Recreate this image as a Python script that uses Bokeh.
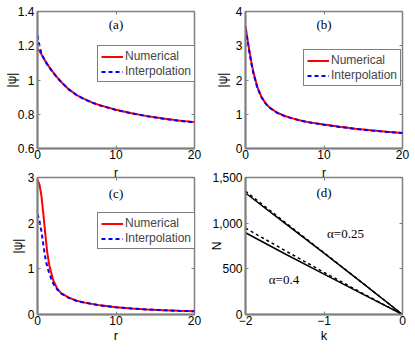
from bokeh.plotting import figure
from bokeh.layouts import gridplot
from bokeh.models import Range1d, FixedTicker, Label, Legend, LegendItem, LinearAxis
from bokeh.embed import file_html
from bokeh.resources import INLINE

# ---------------- data ----------------
r_ab = [0, 0.25, 0.5, 0.75, 1, 1.5, 2, 2.5, 3, 4, 5, 6, 7, 8, 10, 12, 14, 16, 18, 20]
a_num = [1.18, 1.17, 1.15, 1.13, 1.11, 1.075, 1.045, 1.015, 0.99, 0.945, 0.912, 0.888,
         0.868, 0.852, 0.826, 0.806, 0.789, 0.775, 0.763, 0.754]
a_int = [1.26, 1.2, 1.155, 1.13, 1.108, 1.073, 1.043, 1.014, 0.989, 0.944, 0.911, 0.887,
         0.867, 0.851, 0.825, 0.805, 0.788, 0.774, 0.762, 0.753]
b_num = [3.58, 3.2, 2.85, 2.52, 2.23, 1.8, 1.52, 1.34, 1.21, 1.05, 0.95, 0.88, 0.82,
         0.77, 0.70, 0.635, 0.58, 0.53, 0.49, 0.455]
b_int = [3.5, 3.15, 2.8, 2.48, 2.2, 1.78, 1.51, 1.33, 1.2, 1.045, 0.945, 0.875, 0.815,
         0.765, 0.695, 0.63, 0.575, 0.525, 0.485, 0.45]
r_c = [0, 0.25, 0.5, 0.75, 1, 1.25, 1.5, 2, 2.5, 3, 4, 5, 6, 8, 10, 12, 14, 16, 18, 20]
c_num = [2.95, 2.85, 2.6, 2.2, 1.75, 1.35, 1.08, 0.75, 0.57, 0.47, 0.37, 0.30, 0.26,
         0.20, 0.16, 0.13, 0.11, 0.095, 0.082, 0.072]
c_int = [2.2, 2.05, 1.82, 1.52, 1.24, 1.04, 0.9, 0.68, 0.55, 0.46, 0.365, 0.298, 0.258,
         0.199, 0.159, 0.129, 0.109, 0.094, 0.081, 0.071]
k_d = [-2, -1.5, -1, -0.5, 0]
d25_num = [1330, 1000, 672, 338, 0]
d25_int = [1350, 1012, 676, 339, 0]
d40_num = [895, 665, 442, 220, 0]
d40_int = [945, 702, 462, 228, 0]

xt_r = [0, 10, 20]
xl_r = ["0", "10", "20"]
yt_a = [0.6, 0.8, 1, 1.2, 1.4]
yl_a = ["0.6", "0.8", "1", "1.2", "1.4"]
yt_b = [0, 1, 2, 3, 4]
yl_b = ["0", "1", "2", "3", "4"]
yt_c = [0, 1, 2, 3]
yl_c = ["0", "1", "2", "3"]
xt_d = [-2, -1, 0]
xl_d = ["\u22122", "\u22121", "0"]
yt_d = [0, 500, 1000, 1500]
yl_d = ["0", "500", "1,000", "1,500"]

series_names = ["Numerical", "Interpolation"]
panel_tags = ["(a)", "(b)", "(c)", "(d)"]
alpha_tags = ["\u03b1=0.25", "\u03b1=0.4"]

GRAY = "#808080"
SANS = "Liberation Sans"
SERIF = "Liberation Serif"


def mirror_axis(p, ticks, side, label=None):
    # unlabeled axis carrying inward ticks on the top / right frame edges
    ax = LinearAxis(ticker=FixedTicker(ticks=ticks),
                    major_label_overrides={t: "" for t in ticks},
                    major_label_text_font_size="0px", major_label_standoff=0,
                    axis_line_color=None, major_tick_line_color=GRAY,
                    minor_tick_line_color=None, major_tick_in=3, major_tick_out=0)
    if label is not None:
        ax.axis_label = label
        ax.axis_label_standoff = -2
        ax.axis_label_text_font = SANS
        ax.axis_label_text_font_size = "12px"
        ax.axis_label_text_font_style = "normal"
        ax.axis_label_text_color = "black"
    p.add_layout(ax, side)


def make_fig(w, h, xr, yr, bl, br, bt, bb, xt, xl, yt, yl, xlab, ylab, ylab_stand, top_label=None):
    p = figure(width=w, height=h, x_range=Range1d(*xr), y_range=Range1d(*yr),
               output_backend="svg", toolbar_location=None,
               min_border_left=bl, min_border_right=br,
               min_border_top=bt, min_border_bottom=bb)
    p.xgrid.visible = False
    p.ygrid.visible = False
    p.background_fill_color = "white"
    p.border_fill_color = "white"
    p.outline_line_color = GRAY
    p.outline_line_width = 1.5
    for ax, t, l in ((p.xaxis[0], xt, xl), (p.yaxis[0], yt, yl)):
        ax.ticker = FixedTicker(ticks=t)
        ax.major_label_overrides = dict(zip(t, l))
        ax.axis_line_color = GRAY
        ax.axis_line_width = 2
        ax.major_tick_line_color = GRAY
        ax.major_tick_in = 3
        ax.major_tick_out = 0
        ax.minor_tick_line_color = None
        ax.major_label_text_font = SANS
        ax.major_label_text_font_size = "12px"
        ax.major_label_text_color = "black"
        ax.major_label_standoff = 1
        ax.axis_label_text_font = SANS
        ax.axis_label_text_font_style = "normal"
        ax.axis_label_text_color = "black"
    p.yaxis[0].major_label_standoff = 3
    p.xaxis[0].axis_label = xlab
    p.xaxis[0].axis_label_text_font_size = "13px"
    p.xaxis[0].axis_label_standoff = 0
    p.yaxis[0].axis_label = ylab
    p.yaxis[0].axis_label_text_font_size = "12px"
    p.yaxis[0].axis_label_standoff = ylab_stand
    mirror_axis(p, yt, "right")
    # the top axis of a lower panel also carries the "r" title of the panel above
    mirror_axis(p, xt, "above", top_label)
    return p


def add_legend(p, rn, ri, loc):
    leg = Legend(items=[LegendItem(label=series_names[0], renderers=[rn]),
                        LegendItem(label=series_names[1], renderers=[ri])],
                 location=loc, border_line_color="black", border_line_width=1,
                 background_fill_color="white", background_fill_alpha=1,
                 label_text_font=SANS, label_text_font_size="12px",
                 glyph_width=22, glyph_height=13, label_height=13,
                 padding=3, spacing=1, label_standoff=2, margin=0)
    p.add_layout(leg)


def tag(p, x, y, text):
    p.add_layout(Label(x=x, y=y, text=text, text_align="center", text_baseline="middle",
                       text_font=SERIF, text_font_size="13px", text_color="black"))


W1, W2 = 203, 207
H1, H2 = 162, 186

pa = make_fig(W1, H1, (0, 20), (0.6, 1.4), 37, 9, 11, 14, xt_r, xl_r, yt_a, yl_a, None, "|\u03c8|", -4)
pb = make_fig(W2, H1, (0, 20), (0, 4), 42, 8, 11, 14, xt_r, xl_r, yt_b, yl_b, None, "|\u03c8|", 3)
pc = make_fig(W1, H2, (0, 20), (0, 3), 37, 9, 14, 34, xt_r, xl_r, yt_c, yl_c, "r", "|\u03c8|", 0, "r")
pd = make_fig(W2, H2, (-2, 0), (0, 1500), 42, 8, 14, 34, xt_d, xl_d, yt_d, yl_d, "k", "N", -15, "r")

# (a)
ra1 = pa.line(r_ab, a_num, line_color="red", line_width=2)
ra2 = pa.line(r_ab, a_int, line_color="blue", line_width=2, line_dash="4 3")
add_legend(pa, ra1, ra2, (60, 66))
tag(pa, 10, 1.324, panel_tags[0])

# (b)
rb1 = pb.line(r_ab, b_num, line_color="red", line_width=2)
rb2 = pb.line(r_ab, b_int, line_color="blue", line_width=2, line_dash="4 3")
add_legend(pb, rb1, rb2, (58, 62))
tag(pb, 10, 3.62, panel_tags[1])

# (c)
rc1 = pc.line(r_c, c_num, line_color="red", line_width=2)
rc2 = pc.line(r_c, c_int, line_color="blue", line_width=2, line_dash="4 3")
add_legend(pc, rc1, rc2, (60, 65))
tag(pc, 10, 2.65, panel_tags[2])

# (d)
pd.line(k_d, d25_num, line_color="black", line_width=1.5)
pd.line(k_d, d25_int, line_color="black", line_width=1.5, line_dash="3 3")
pd.line(k_d, d40_num, line_color="black", line_width=1.5)
pd.line(k_d, d40_int, line_color="black", line_width=1.5, line_dash="3 3")
tag(pd, -1.0, 1337, panel_tags[3])
tag(pd, -0.726, 886, alpha_tags[0])
tag(pd, -1.51, 380, alpha_tags[1])

grid = gridplot([[pa, pb], [pc, pd]], toolbar_location=None)

open("out.html", "w").write(file_html(grid, INLINE))
